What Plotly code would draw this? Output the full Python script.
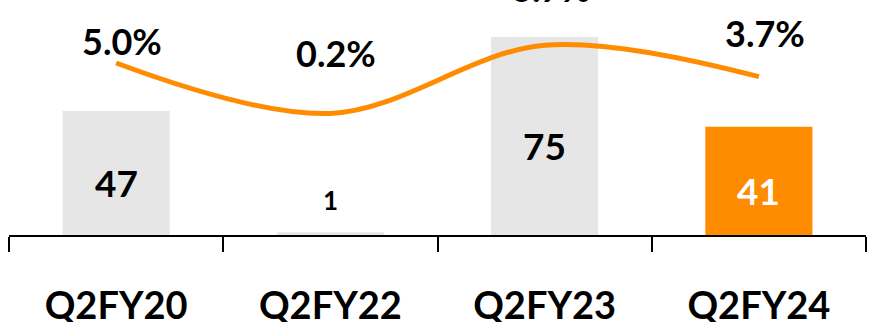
import plotly.graph_objects as go

# Quarterly figures
quarters = ["Q2FY20", "Q2FY22", "Q2FY23", "Q2FY24"]
amounts = [47, 1, 75, 41]
growth_pct = [5.0, 0.2, 6.7, 3.7]

# Styling
bar_colors = ["#E6E6E6", "#E6E6E6", "#E6E6E6", "#FF8C00"]
bar_text_colors = ["#000000", "#000000", "#000000", "#FFFFFF"]
pct_label_shift = [22, 60, 57, 44]
LINE_COLOR = "#FF8C00"
FONT = "Lato"

fig = go.Figure()

fig.add_trace(go.Bar(
    x=quarters, y=amounts,
    marker=dict(color=bar_colors, line=dict(width=0)),
    width=0.5, hoverinfo="skip",
))

fig.add_trace(go.Scatter(
    x=quarters, y=growth_pct, yaxis="y2",
    mode="lines",
    line=dict(color=LINE_COLOR, width=5, shape="spline", smoothing=1),
    hoverinfo="skip",
))

annotations = []
# Values on the bars
for q, v, c in zip(quarters, amounts, bar_text_colors):
    small = v < 5
    annotations.append(dict(
        x=q, y=v if small else v / 2, xref="x", yref="y",
        text=str(v), showarrow=False,
        font=dict(family=FONT, size=26 if small else 37, color=c, weight="bold"),
        yshift=32 if small else -10,
    ))
# Growth labels above the line
for q, p, sh in zip(quarters, growth_pct, pct_label_shift):
    annotations.append(dict(
        x=q, y=p, xref="x", yref="y2",
        text=f"{p:.1f}%", showarrow=False,
        font=dict(family=FONT, size=36, color="#000000", weight="bold"),
        yshift=sh, xshift=6,
    ))

fig.update_layout(
    width=869, height=322,
    margin=dict(l=9, r=3, t=0, b=87),
    paper_bgcolor="white", plot_bgcolor="white",
    showlegend=False, bargap=0.5,
    font=dict(family=FONT, color="#000000"),
    xaxis=dict(
        type="category", range=[-0.5, 3.5], automargin=False,
        showline=True, linecolor="#000000", linewidth=2,
        ticks="outside", tickson="boundaries", ticklen=15,
        tickwidth=2, tickcolor="#000000",
        tickfont=dict(family=FONT, size=38, color="#000000", weight="bold"),
        ticklabelstandoff=36,
        showgrid=False, zeroline=False, fixedrange=True,
    ),
    yaxis=dict(range=[0, 89], visible=False, showgrid=False, zeroline=False),
    yaxis2=dict(range=[-11.38, 11.0], overlaying="y", visible=False,
                showgrid=False, zeroline=False),
    annotations=annotations,
)

fig.write_html("out.html")
